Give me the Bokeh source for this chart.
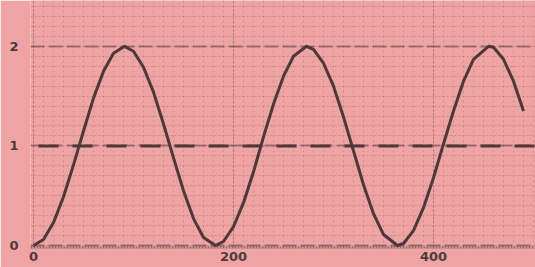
from bokeh.plotting import figure
from bokeh.models import FixedTicker, Range1d
from bokeh.embed import file_html
from bokeh.resources import INLINE

# Curve (x units, value)
x_vals = [0, 10, 20, 30, 40, 50, 60, 70, 80, 91, 100, 110, 120, 130, 140, 150, 160, 170, 182,
          190, 200, 210, 220, 230, 240, 250, 260, 273, 280, 290, 300, 310, 320, 330, 340, 350, 364,
          370, 380, 390, 400, 410, 420, 430, 440, 455, 460, 470, 480, 490]
y_vals = [0.00, 0.06, 0.23, 0.49, 0.81, 1.15, 1.48, 1.75, 1.93, 2.00, 1.95, 1.79, 1.54, 1.22, 0.88, 0.55, 0.27, 0.08, 0.00,
          0.04, 0.19, 0.43, 0.74, 1.09, 1.42, 1.70, 1.90, 2.00, 1.97, 1.83, 1.60, 1.29, 0.95, 0.61, 0.32, 0.11, 0.00,
          0.02, 0.15, 0.38, 0.68, 1.02, 1.35, 1.65, 1.87, 2.00, 1.99, 1.87, 1.65, 1.35]

# Dashed reference level
ref_x = [5, 502]
ref_y = [1, 1]

x_ticks = [0, 200, 400]
y_ticks = [0, 1, 2]

BG = "#f0a3a3"
INK = "#4a3a3a"

p = figure(width=535, height=267, output_backend="svg", toolbar_location=None,
           x_range=Range1d(-3, 502), y_range=Range1d(-0.02, 2.46),
           min_border_left=30, min_border_right=0, min_border_top=0, min_border_bottom=20)
p.background_fill_color = BG
p.border_fill_color = BG
p.outline_line_color = None

p.xaxis.ticker = FixedTicker(ticks=x_ticks, minor_ticks=list(range(0, 510, 10)))
p.yaxis.ticker = FixedTicker(ticks=y_ticks, minor_ticks=[i / 10 for i in range(0, 25)])

for ax in (p.xaxis, p.yaxis):
    ax.major_tick_line_color = None
    ax.minor_tick_line_color = None
    ax.major_tick_out = 0
    ax.minor_tick_out = 0
    ax.major_tick_in = 0
    ax.minor_tick_in = 0
    ax.major_label_text_font = "DejaVu Sans"
    ax.major_label_text_font_style = "bold"
    ax.major_label_text_font_size = "13px"
    ax.major_label_text_color = "#4a3c3c"
p.xaxis.axis_line_color = INK
p.xaxis.axis_line_width = 2
p.xaxis.axis_line_dash = "2 1"
p.xaxis.axis_line_alpha = 0.6
p.yaxis.axis_line_color = None
p.xaxis.major_label_standoff = 4
p.yaxis.major_label_standoff = 12

# graph-paper look
p.xgrid.grid_line_color = INK
p.xgrid.grid_line_alpha = 0.4
p.xgrid.grid_line_dash = "2 2"
p.xgrid.minor_grid_line_color = INK
p.xgrid.minor_grid_line_alpha = 0.2
p.xgrid.minor_grid_line_dash = "2 3"
p.ygrid.grid_line_color = INK
p.ygrid.grid_line_alpha = 0.5
p.ygrid.grid_line_width = 2
p.ygrid.grid_line_dash = "14 4"
p.ygrid.minor_grid_line_color = INK
p.ygrid.minor_grid_line_alpha = 0.22
p.ygrid.minor_grid_line_dash = "2 2"

p.line(ref_x, ref_y, line_color=INK, line_width=3, line_dash="20 14")
p.line(x_vals, y_vals, line_color=INK, line_width=3, line_join="round")

open("out.html", "w").write(file_html(p, INLINE))
